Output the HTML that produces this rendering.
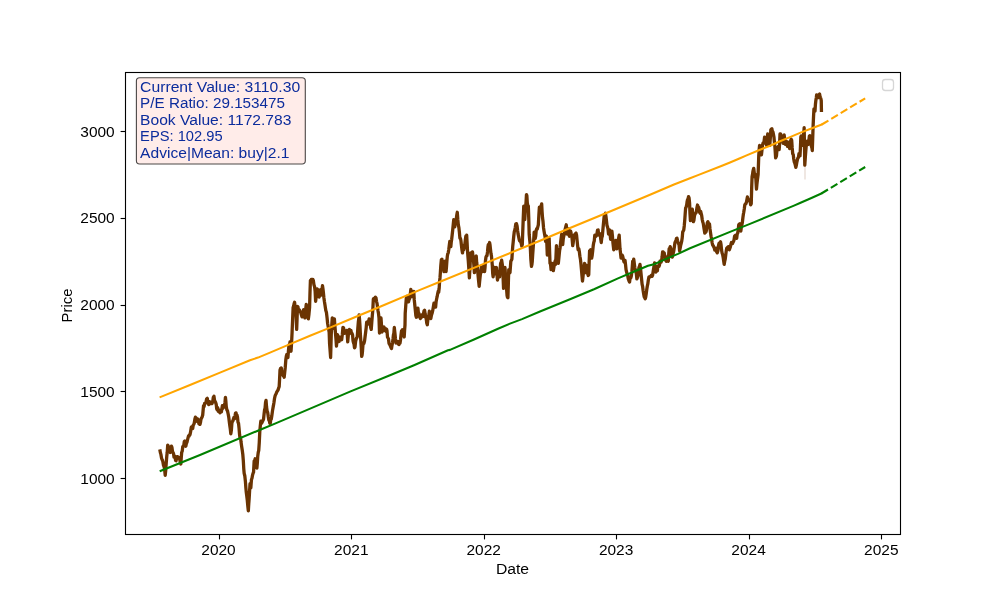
<!DOCTYPE html>
<html><head><meta charset="utf-8"><title>chart</title>
<style>
html,body{margin:0;padding:0;background:#fff;}
body{width:1000px;height:600px;overflow:hidden;position:relative;font-family:"Liberation Sans",sans-serif;}
svg{position:absolute;left:0;top:0;will-change:transform;}
text{font-family:"Liberation Sans",sans-serif;}
</style></head><body>
<svg width="1000" height="600" viewBox="0 0 1000 600">
<rect x="0" y="0" width="1000" height="600" fill="#ffffff"/>
<line x1="805" y1="160" x2="805" y2="179.5" stroke="#efe7e2" stroke-width="2"/>
<path d="M159.79,449.38 L160.35,452.44 L160.90,454.37 L161.46,457.71 L161.95,459.35 L162.43,460.14 L162.92,461.88 L163.47,465.33 L164.03,466.51 L164.58,469.17 L165.21,475.42 L165.73,470.39 L166.25,462.92 L166.74,456.55 L167.22,452.25 L167.71,445.21 L168.20,445.98 L168.68,447.72 L169.17,448.33 L169.69,450.21 L170.21,452.50 L170.84,451.21 L171.46,446.25 L171.95,447.39 L172.43,450.97 L172.92,452.50 L173.47,453.34 L174.03,457.14 L174.58,456.67 L175.07,456.14 L175.55,460.42 L176.04,460.83 L176.53,458.93 L177.01,458.39 L177.50,456.67 L178.06,456.97 L178.61,457.94 L179.17,457.71 L179.72,459.09 L180.28,462.22 L180.83,463.96 L181.25,457.80 L181.67,452.50 L182.22,451.14 L182.78,446.44 L183.33,446.25 L183.82,445.13 L184.30,441.46 L184.79,441.04 L185.31,444.33 L185.83,446.25 L186.39,443.35 L186.94,442.46 L187.50,440.00 L188.02,437.80 L188.54,435.83 L189.03,436.18 L189.51,434.86 L190.00,434.79 L190.62,431.64 L191.25,427.50 L191.74,426.79 L192.22,428.77 L192.71,428.54 L193.23,425.12 L193.75,424.38 L194.31,422.84 L194.86,419.24 L195.42,417.08 L195.91,418.94 L196.39,418.22 L196.88,421.25 L197.36,420.96 L197.85,419.12 L198.33,420.21 L198.89,423.82 L199.44,422.64 L200.00,424.38 L200.49,422.41 L200.97,419.31 L201.46,418.12 L202.09,417.11 L202.71,415.00 L203.12,410.24 L203.54,405.62 L204.10,406.54 L204.65,403.32 L205.21,403.54 L205.90,402.54 L206.60,399.03 L207.29,398.33 L207.78,402.00 L208.26,402.10 L208.75,404.58 L209.31,404.02 L209.86,401.76 L210.42,402.50 L210.97,403.52 L211.53,402.52 L212.08,403.54 L212.71,401.61 L213.33,397.29 L213.96,396.25 L214.48,399.92 L215.00,401.46 L215.62,402.44 L216.25,404.58 L216.67,408.60 L217.08,409.79 L217.64,407.56 L218.19,411.39 L218.75,409.79 L219.31,410.22 L219.86,412.77 L220.42,411.88 L220.91,410.20 L221.39,411.88 L221.88,408.75 L222.36,405.63 L222.85,408.45 L223.33,407.71 L223.96,405.34 L224.58,404.58 L225.00,402.17 L225.42,397.29 L225.83,400.90 L226.25,406.67 L226.88,409.96 L227.50,410.83 L228.12,413.78 L228.75,417.08 L229.27,421.52 L229.79,425.42 L230.31,429.11 L230.83,433.75 L231.36,430.29 L231.88,423.33 L232.36,421.26 L232.85,421.13 L233.33,419.17 L233.89,417.52 L234.44,418.81 L235.00,416.04 L235.52,413.07 L236.04,412.92 L236.53,415.36 L237.01,415.11 L237.50,417.08 L238.02,422.38 L238.54,423.33 L239.06,428.36 L239.58,434.79 L240.07,438.15 L240.55,437.66 L241.04,442.08 L241.66,446.45 L242.29,450.42 L242.81,454.50 L243.33,460.83 L243.75,468.52 L244.17,473.33 L244.79,475.73 L245.42,481.67 L245.83,487.48 L246.25,492.08 L246.77,496.08 L247.29,500.42 L247.81,505.98 L248.33,510.83 L248.75,503.87 L249.17,498.33 L249.58,491.17 L250.00,483.75 L250.42,484.57 L250.83,487.92 L251.46,479.58 L251.98,478.23 L252.50,475.42 L253.02,473.40 L253.54,472.29 L254.17,460.83 L254.69,460.94 L255.21,458.75 L255.73,460.81 L256.25,462.92 L256.88,468.12 L257.29,463.36 L257.71,456.67 L258.23,452.50 L258.75,450.42 L259.27,442.66 L259.79,431.67 L260.31,425.97 L260.83,421.25 L261.45,423.29 L262.08,422.29 L262.57,421.10 L263.05,420.37 L263.54,419.17 L264.06,414.15 L264.58,409.79 L265.07,408.21 L265.55,402.41 L266.04,400.42 L266.56,407.01 L267.08,410.83 L267.70,412.56 L268.33,417.08 L268.82,420.03 L269.30,420.55 L269.79,423.33 L270.28,423.18 L270.76,419.61 L271.25,419.17 L271.88,415.38 L272.50,410.83 L272.99,407.90 L273.47,405.44 L273.96,402.50 L274.48,398.74 L275.00,396.25 L275.42,395.00 L276.11,393.80 L276.81,391.91 L277.50,390.83 L278.06,390.07 L278.61,388.06 L279.17,386.67 L279.59,379.18 L280.00,370.00 L280.62,368.34 L281.25,367.92 L281.74,372.22 L282.22,371.73 L282.71,374.17 L283.20,375.68 L283.68,375.84 L284.17,377.29 L284.69,372.62 L285.21,367.92 L285.83,359.58 L286.36,355.96 L286.88,354.38 L287.40,356.31 L287.92,357.50 L288.44,350.83 L288.96,345.00 L289.48,345.46 L290.00,341.88 L290.52,343.74 L291.04,351.25 L291.56,343.11 L292.08,332.50 L292.60,319.73 L293.12,307.50 L293.61,306.20 L294.09,303.76 L294.58,302.29 L295.20,307.45 L295.83,311.67 L296.25,319.80 L296.67,329.38 L297.09,318.23 L297.50,306.46 L297.99,306.93 L298.47,311.21 L298.96,309.58 L299.45,309.89 L299.93,311.58 L300.42,311.67 L300.97,313.30 L301.53,315.39 L302.08,316.88 L302.57,314.38 L303.05,315.01 L303.54,309.58 L304.03,311.82 L304.51,316.25 L305.00,317.92 L305.62,309.86 L306.25,304.38 L306.77,307.57 L307.29,310.62 L307.81,313.74 L308.33,318.96 L308.95,314.17 L309.58,307.50 L310.00,292.32 L310.42,280.42 L310.91,281.94 L311.39,279.34 L311.88,279.38 L312.36,280.10 L312.85,279.39 L313.33,280.42 L313.95,284.75 L314.58,286.67 L315.10,291.01 L315.62,301.25 L316.14,297.24 L316.67,290.83 L317.15,288.89 L317.64,290.89 L318.12,289.79 L318.64,291.79 L319.17,297.08 L319.69,293.63 L320.21,289.79 L320.73,291.08 L321.25,295.00 L321.88,290.47 L322.50,285.62 L322.91,288.54 L323.33,291.88 L323.86,297.44 L324.38,301.25 L324.86,304.22 L325.35,307.59 L325.83,310.62 L326.45,312.58 L327.08,317.92 L327.60,323.24 L328.12,326.25 L328.64,329.05 L329.17,332.50 L329.59,343.85 L330.00,349.17 L330.62,357.50 L331.25,334.58 L331.77,324.99 L332.29,317.92 L332.81,324.13 L333.33,328.33 L333.86,323.35 L334.38,318.96 L334.90,325.88 L335.42,332.50 L335.94,338.49 L336.46,346.04 L336.98,340.55 L337.50,334.58 L338.02,337.00 L338.54,340.83 L339.03,341.47 L339.51,337.09 L340.00,337.71 L340.56,339.08 L341.11,338.04 L341.67,339.79 L342.30,334.67 L342.92,327.29 L343.55,327.76 L344.17,331.46 L344.72,333.20 L345.28,331.33 L345.83,332.50 L346.36,333.08 L346.88,330.42 L347.29,335.12 L347.71,341.88 L348.23,336.15 L348.75,330.42 L349.31,329.51 L349.86,331.96 L350.42,331.46 L350.97,330.40 L351.53,333.83 L352.08,333.54 L352.57,334.95 L353.05,340.88 L353.54,342.92 L354.03,344.11 L354.51,347.86 L355.00,347.08 L355.62,341.37 L356.25,338.75 L356.77,337.82 L357.29,336.67 L357.81,328.71 L358.33,322.08 L358.75,318.87 L359.17,314.79 L359.59,320.07 L360.00,326.25 L360.41,335.19 L360.83,340.83 L361.25,347.52 L361.67,356.46 L362.09,355.10 L362.50,351.25 L362.91,345.45 L363.33,342.92 L363.95,343.47 L364.58,340.83 L365.10,336.47 L365.62,332.50 L366.14,328.11 L366.67,322.08 L367.30,322.00 L367.92,324.17 L368.55,321.69 L369.17,318.96 L369.69,320.90 L370.21,323.12 L370.73,327.82 L371.25,329.38 L371.77,322.32 L372.29,315.83 L372.81,310.03 L373.33,299.17 L373.82,298.39 L374.30,300.51 L374.79,298.12 L375.39,297.16 L376.00,298.00 L376.50,301.35 L377.00,303.33 L377.50,307.00 L378.00,310.68 L378.50,313.42 L379.00,318.00 L379.50,333.00 L380.00,328.09 L380.50,321.54 L381.00,318.00 L381.50,325.07 L382.00,332.00 L382.50,329.52 L383.00,330.97 L383.50,328.00 L384.00,326.90 L384.50,330.07 L385.00,330.00 L385.50,328.70 L386.00,331.40 L386.50,329.00 L387.00,330.81 L387.50,337.16 L388.00,338.00 L388.50,338.82 L389.00,343.36 L389.50,344.00 L390.17,345.49 L390.83,347.21 L391.50,348.50 L392.00,345.30 L392.50,342.82 L393.00,339.00 L393.43,334.91 L393.87,333.30 L394.30,327.50 L394.87,332.62 L395.43,338.42 L396.00,343.00 L396.50,341.57 L397.00,342.55 L397.50,342.00 L398.00,341.45 L398.50,344.28 L399.00,344.50 L399.50,341.82 L400.00,343.31 L400.50,340.00 L401.00,334.84 L401.50,331.00 L402.00,331.94 L402.50,329.79 L403.00,330.50 L403.60,333.76 L404.20,337.00 L404.60,330.11 L405.00,325.00 L405.21,313.33 L405.73,306.22 L406.25,298.75 L406.88,296.41 L407.50,296.67 L408.02,301.00 L408.54,301.88 L409.06,299.61 L409.58,298.75 L410.20,295.08 L410.83,289.38 L411.45,292.40 L412.08,296.67 L412.64,295.93 L413.19,292.35 L413.75,291.46 L414.27,299.91 L414.79,305.00 L415.31,310.08 L415.83,315.42 L416.36,317.24 L416.88,316.46 L417.40,311.89 L417.92,308.12 L418.44,313.32 L418.96,313.33 L419.45,314.71 L419.93,317.51 L420.42,318.54 L420.97,315.36 L421.53,317.26 L422.08,315.42 L422.57,314.42 L423.05,316.48 L423.54,313.33 L424.06,310.81 L424.58,310.21 L425.20,314.18 L425.83,317.50 L426.32,319.43 L426.80,323.22 L427.29,324.79 L427.81,320.32 L428.33,317.50 L428.86,315.11 L429.38,311.25 L429.86,313.32 L430.35,317.58 L430.83,318.54 L431.45,315.21 L432.08,313.33 L432.70,310.70 L433.33,307.08 L433.95,303.23 L434.58,303.96 L435.10,306.51 L435.62,307.08 L436.14,301.47 L436.67,298.75 L437.19,296.47 L437.71,293.54 L438.20,291.29 L438.68,292.20 L439.17,288.33 L439.59,281.19 L440.00,277.92 L440.41,272.19 L440.83,265.42 L441.36,259.63 L441.88,259.17 L442.40,261.75 L442.92,262.29 L443.44,266.22 L443.96,271.67 L444.48,268.54 L445.00,261.25 L445.52,266.33 L446.04,271.67 L446.46,267.08 L446.88,261.25 L447.29,256.61 L447.71,253.96 L448.23,252.87 L448.75,249.79 L449.27,245.53 L449.79,241.46 L450.31,244.39 L450.83,246.67 L451.25,242.12 L451.67,239.38 L452.19,234.73 L452.71,230.00 L453.23,224.58 L453.75,219.58 L454.27,224.35 L454.79,226.88 L455.31,223.36 L455.83,220.62 L456.32,218.82 L456.80,214.95 L457.29,212.29 L457.81,219.48 L458.33,224.79 L458.86,227.51 L459.38,232.08 L459.90,238.14 L460.42,238.33 L460.94,240.72 L461.46,245.62 L461.98,249.97 L462.50,252.92 L463.12,248.50 L463.75,249.79 L464.27,247.87 L464.79,244.58 L465.31,239.89 L465.83,236.25 L466.25,237.58 L466.67,235.21 L467.09,242.55 L467.50,250.83 L467.91,256.11 L468.33,261.25 L468.86,269.01 L469.38,277.92 L470.00,267.50 L470.62,252.92 L471.14,258.18 L471.67,259.17 L472.09,254.39 L472.50,251.88 L473.02,256.92 L473.54,261.25 L473.96,266.21 L474.38,272.71 L474.90,268.44 L475.42,261.25 L475.84,256.65 L476.25,256.04 L476.66,262.27 L477.08,265.42 L477.60,269.89 L478.12,275.83 L478.64,281.36 L479.17,286.25 L479.69,280.84 L480.21,275.83 L480.73,272.10 L481.25,267.50 L481.77,268.51 L482.29,271.67 L482.81,270.88 L483.33,265.42 L483.95,267.40 L484.58,271.67 L485.00,267.77 L485.42,261.25 L485.94,257.17 L486.46,256.04 L486.98,255.83 L487.50,251.88 L487.91,247.14 L488.33,244.58 L488.95,245.54 L489.58,242.50 L490.00,244.73 L490.42,248.75 L490.94,253.35 L491.46,256.04 L491.88,260.44 L492.29,265.42 L492.71,273.53 L493.12,276.88 L493.75,271.37 L494.38,267.50 L494.90,270.69 L495.42,273.75 L495.94,270.05 L496.46,267.50 L496.98,274.55 L497.50,280.00 L498.02,275.70 L498.54,271.67 L499.06,274.78 L499.58,276.88 L500.10,269.69 L500.62,263.33 L501.14,262.47 L501.67,260.21 L502.19,263.63 L502.71,267.50 L503.12,278.27 L503.54,288.33 L504.06,283.30 L504.58,280.00 L505.00,267.50 L505.52,275.89 L506.04,284.17 L506.56,288.99 L507.08,295.62 L507.50,297.35 L507.92,297.71 L508.34,283.64 L508.75,269.58 L509.38,271.27 L510.00,272.71 L510.41,266.81 L510.83,261.25 L511.36,260.21 L511.88,259.17 L512.30,252.73 L512.71,246.67 L513.23,241.61 L513.75,236.25 L514.27,231.74 L514.79,230.00 L515.31,227.34 L515.83,223.75 L516.46,223.63 L517.08,225.83 L517.60,230.48 L518.12,234.17 L518.64,236.57 L519.17,239.38 L519.69,240.91 L520.21,241.46 L520.73,241.44 L521.25,243.54 L521.77,246.15 L522.29,244.58 L522.70,233.06 L523.12,221.67 L523.75,206.04 L524.27,213.83 L524.79,219.58 L525.20,212.52 L525.62,207.08 L526.04,202.02 L526.46,194.58 L526.88,195.86 L527.29,202.92 L527.81,205.62 L528.33,206.04 L528.75,218.37 L529.17,234.17 L529.59,238.75 L530.00,242.50 L530.41,249.33 L530.83,259.17 L531.46,266.46 L531.88,264.69 L532.29,261.25 L532.70,254.43 L533.12,248.75 L533.64,240.96 L534.17,232.08 L534.69,235.01 L535.21,238.33 L535.73,235.80 L536.25,230.00 L536.77,228.70 L537.29,228.96 L537.81,226.90 L538.33,224.79 L538.86,215.28 L539.38,207.08 L539.90,210.99 L540.42,211.25 L541.04,206.54 L541.67,203.96 L542.09,211.86 L542.50,217.50 L543.02,221.52 L543.54,227.92 L544.06,231.21 L544.58,234.17 L545.10,237.01 L545.62,241.46 L546.04,239.18 L546.46,236.25 L546.88,244.45 L547.29,255.00 L547.81,253.57 L548.33,250.83 L548.75,243.58 L549.17,238.33 L549.59,251.06 L550.00,263.33 L550.52,263.65 L551.04,269.58 L551.56,267.82 L552.08,263.33 L552.71,266.74 L553.33,270.62 L553.96,267.07 L554.58,263.33 L555.10,261.00 L555.62,264.38 L556.04,255.38 L556.46,245.62 L556.88,249.35 L557.29,255.00 L557.81,260.24 L558.33,263.33 L558.96,257.07 L559.58,250.83 L560.10,247.95 L560.62,242.50 L561.14,238.13 L561.67,234.17 L562.19,239.77 L562.71,244.58 L563.23,239.17 L563.75,236.25 L564.38,233.99 L565.00,230.00 L565.62,227.37 L566.25,224.79 L566.77,230.42 L567.29,234.17 L567.81,230.97 L568.33,228.96 L568.86,232.83 L569.38,236.25 L570.00,233.58 L570.62,231.04 L571.14,233.39 L571.67,235.21 L572.19,239.66 L572.71,245.62 L573.23,242.61 L573.75,237.29 L574.38,235.04 L575.00,234.17 L575.52,233.65 L576.04,233.12 L576.56,235.16 L577.08,240.42 L577.60,245.58 L578.12,249.79 L578.75,248.63 L579.38,251.88 L579.90,256.28 L580.42,259.17 L580.94,263.75 L581.46,269.58 L581.98,275.93 L582.50,281.04 L583.02,276.30 L583.54,271.67 L584.06,267.76 L584.58,263.33 L585.10,266.46 L585.62,272.71 L586.14,271.08 L586.67,265.42 L587.19,269.02 L587.71,273.75 L588.23,275.47 L588.75,274.79 L589.16,261.84 L589.58,250.83 L590.10,250.51 L590.62,249.79 L591.14,251.95 L591.67,258.12 L592.19,255.33 L592.71,250.83 L593.23,245.64 L593.75,242.50 L594.27,240.94 L594.79,235.21 L595.31,235.67 L595.83,236.25 L596.36,235.90 L596.88,234.17 L597.50,230.15 L598.12,230.00 L598.64,234.61 L599.17,235.21 L599.69,233.52 L600.21,234.17 L600.73,239.03 L601.25,242.50 L601.77,237.83 L602.29,236.25 L602.81,230.55 L603.33,224.79 L603.86,219.31 L604.38,214.38 L604.90,214.55 L605.42,213.33 L605.94,216.20 L606.46,220.62 L606.98,225.40 L607.50,226.88 L608.02,229.24 L608.54,234.17 L609.06,233.53 L609.58,230.00 L610.10,234.13 L610.62,239.38 L611.25,236.38 L611.88,231.04 L612.40,235.59 L612.92,242.50 L613.34,246.23 L613.75,249.79 L614.27,247.18 L614.79,244.58 L615.31,243.04 L615.83,240.42 L616.36,242.84 L616.88,248.75 L617.40,246.99 L617.92,242.50 L618.54,238.83 L619.17,235.21 L619.59,242.20 L620.00,248.75 L620.52,253.09 L621.04,258.12 L621.56,256.63 L622.08,255.00 L622.71,256.25 L623.33,259.17 L623.86,261.50 L624.38,262.29 L625.00,260.21 L625.52,264.51 L626.04,269.58 L626.56,271.76 L627.08,273.75 L627.71,275.62 L628.33,278.96 L628.96,280.71 L629.58,282.08 L630.21,277.01 L630.83,277.92 L631.36,275.87 L631.88,271.67 L632.30,266.42 L632.71,261.25 L633.23,261.86 L633.75,259.17 L634.27,263.12 L634.79,267.50 L635.31,269.75 L635.83,271.67 L636.36,273.80 L636.88,278.96 L637.40,277.67 L637.92,275.83 L638.44,271.32 L638.96,267.50 L639.48,266.45 L640.00,264.38 L640.52,268.39 L641.04,273.75 L641.56,279.00 L642.08,284.17 L642.60,286.36 L643.12,290.42 L643.64,293.70 L644.17,296.67 L644.69,297.64 L645.21,298.75 L645.73,296.95 L646.25,293.54 L646.77,289.57 L647.29,286.25 L647.81,283.92 L648.33,280.00 L648.96,276.95 L649.58,276.88 L650.21,276.77 L650.83,275.83 L651.46,275.23 L652.08,276.25 L652.60,275.18 L653.12,271.67 L653.61,268.63 L654.09,266.38 L654.58,262.92 L655.00,267.18 L655.42,271.67 L655.91,271.97 L656.39,270.66 L656.88,270.83 L657.40,270.89 L657.92,265.83 L658.44,265.79 L658.96,266.46 L659.48,265.07 L660.00,261.25 L660.52,261.64 L661.04,262.29 L661.56,260.91 L662.08,257.08 L662.60,251.87 L663.12,251.88 L663.64,253.23 L664.17,252.92 L664.69,255.25 L665.21,258.12 L665.73,260.35 L666.25,261.25 L666.77,257.11 L667.29,258.12 L667.81,260.04 L668.33,261.25 L668.75,253.59 L669.17,248.75 L669.69,248.55 L670.21,246.67 L670.73,248.23 L671.25,251.88 L671.77,255.04 L672.29,257.08 L672.81,254.83 L673.33,252.92 L673.86,250.36 L674.38,246.67 L674.90,242.88 L675.42,241.46 L675.94,241.19 L676.46,238.33 L676.98,238.26 L677.50,240.42 L678.02,242.25 L678.54,243.54 L679.06,244.85 L679.58,250.83 L680.10,248.47 L680.62,245.62 L681.14,243.52 L681.67,241.46 L682.19,238.05 L682.71,232.08 L683.23,231.01 L683.75,230.00 L684.27,225.68 L684.79,219.58 L685.20,213.57 L685.62,208.12 L686.14,207.20 L686.67,205.00 L687.09,201.61 L687.50,199.79 L688.02,199.08 L688.54,196.67 L689.06,197.87 L689.58,202.92 L690.00,213.60 L690.42,220.62 L690.84,217.48 L691.25,214.38 L691.77,212.07 L692.29,209.17 L692.81,214.95 L693.33,221.67 L693.86,220.62 L694.38,216.46 L694.90,214.12 L695.42,213.33 L695.94,213.03 L696.46,211.25 L696.98,207.60 L697.50,205.00 L698.02,206.80 L698.54,207.08 L699.06,208.89 L699.58,212.29 L700.10,213.24 L700.62,211.25 L701.14,213.32 L701.67,215.42 L702.19,219.29 L702.71,221.67 L703.23,223.38 L703.75,226.88 L704.27,230.05 L704.79,233.12 L705.31,232.26 L705.83,232.08 L706.36,230.63 L706.88,225.83 L707.40,222.51 L707.92,221.67 L708.44,223.28 L708.96,223.75 L709.48,223.84 L710.00,228.96 L710.52,232.61 L711.04,236.25 L711.56,238.51 L712.08,242.50 L712.60,244.77 L713.12,245.62 L713.64,246.62 L714.17,247.71 L714.79,250.15 L715.42,248.75 L716.04,248.35 L716.67,251.88 L717.29,252.86 L717.92,250.83 L718.44,245.85 L718.96,243.54 L719.48,244.68 L720.00,242.50 L720.52,241.76 L721.04,244.58 L721.56,250.04 L722.08,252.92 L722.60,254.49 L723.12,257.08 L723.64,260.80 L724.17,264.38 L724.69,261.43 L725.21,259.17 L725.73,255.13 L726.25,250.83 L726.77,248.07 L727.29,247.71 L727.81,247.22 L728.33,246.67 L728.86,246.65 L729.38,249.79 L729.90,248.31 L730.42,246.67 L730.94,244.25 L731.46,242.50 L731.98,243.53 L732.50,243.54 L733.02,242.25 L733.54,241.46 L734.06,239.85 L734.58,236.25 L735.10,235.55 L735.62,235.21 L736.14,237.30 L736.67,238.33 L737.19,234.00 L737.71,233.12 L738.23,229.80 L738.75,224.79 L739.27,224.14 L739.79,223.75 L740.31,227.91 L740.83,231.04 L741.36,227.14 L741.88,224.79 L742.40,222.18 L742.92,217.50 L743.34,214.51 L743.75,212.29 L744.27,208.97 L744.79,205.00 L745.31,203.91 L745.83,203.96 L746.36,202.50 L746.88,199.79 L747.40,196.96 L747.92,198.75 L748.44,200.57 L748.96,200.83 L749.48,200.30 L750.00,199.79 L750.62,204.84 L751.25,203.75 L751.66,188.16 L752.08,176.67 L752.50,174.64 L752.92,171.46 L753.34,169.71 L753.75,168.33 L754.27,172.67 L754.79,176.67 L755.20,175.18 L755.62,174.58 L756.04,182.14 L756.46,189.17 L756.88,184.60 L757.29,180.83 L757.70,177.76 L758.12,174.58 L758.75,155.83 L759.16,149.78 L759.58,145.42 L760.10,148.02 L760.62,146.46 L761.04,149.65 L761.46,154.79 L761.98,150.11 L762.50,145.42 L763.02,143.24 L763.54,143.33 L764.06,141.35 L764.58,137.08 L765.10,137.95 L765.62,140.21 L766.14,143.53 L766.67,145.42 L767.19,138.99 L767.71,133.96 L768.23,137.91 L768.75,140.21 L769.27,142.48 L769.79,145.42 L770.31,138.16 L770.83,129.79 L771.36,129.15 L771.88,128.75 L772.40,131.87 L772.92,131.88 L773.44,134.45 L773.96,137.08 L774.38,141.75 L774.79,145.42 L775.20,151.09 L775.62,157.92 L776.04,156.98 L776.46,155.83 L776.88,150.84 L777.29,147.50 L777.81,147.95 L778.33,146.46 L778.75,147.32 L779.17,149.58 L779.59,143.82 L780.00,133.96 L780.52,133.87 L781.04,135.00 L781.56,135.68 L782.08,136.04 L782.60,139.52 L783.12,143.33 L783.64,140.86 L784.17,135.00 L784.69,139.34 L785.21,144.38 L785.84,143.80 L786.46,141.25 L786.98,143.10 L787.50,146.46 L788.02,144.39 L788.54,142.29 L789.06,145.40 L789.58,148.54 L790.10,146.85 L790.62,141.25 L791.14,139.15 L791.67,140.21 L792.19,147.97 L792.71,153.75 L793.23,154.43 L793.75,158.96 L794.27,161.86 L794.79,163.12 L795.31,165.06 L795.83,167.29 L796.36,165.18 L796.88,162.08 L797.40,159.60 L797.92,157.92 L798.44,157.48 L798.96,153.75 L799.48,154.56 L800.00,155.83 L800.41,148.10 L800.83,137.08 L801.25,135.93 L801.67,136.04 L802.09,141.86 L802.50,145.42 L802.91,139.75 L803.33,137.08 L803.75,133.74 L804.17,127.71 L804.79,165.21 L805.42,155.83 L805.84,150.26 L806.25,145.42 L806.77,145.20 L807.29,141.25 L807.81,142.34 L808.33,144.38 L808.86,140.48 L809.38,136.04 L809.90,135.67 L810.42,140.21 L810.94,143.91 L811.46,146.46 L811.88,147.80 L812.29,150.62 L812.70,138.70 L813.12,125.62 L813.54,116.69 L813.96,108.96 L814.48,111.12 L815.00,111.04 L815.41,104.54 L815.83,100.62 L816.25,98.03 L816.67,94.79 L817.19,95.56 L817.71,96.88 L818.23,97.59 L818.75,95.42 L819.16,94.47 L819.58,93.96 L820.00,96.33 L820.42,97.50 L820.84,98.55 L821.25,100.62 L821.46,112.08" fill="none" stroke="#6b3402" stroke-width="3.3" stroke-linejoin="round" stroke-linecap="butt"/>
<path d="M159.6,397.4 L190.0,385.0 L220.0,372.6 L250.0,360.2 L258.0,357.6 L270.0,352.6 L290.0,344.1 L310.0,335.8 L330.0,327.6 L350.0,319.2 L380.0,306.8 L420.0,289.9 L440.0,281.8 L480.0,265.4 L540.0,240.7 L570.0,228.0 L610.0,211.5 L650.0,194.8 L674.0,184.5 L690.0,178.3 L698.0,175.1 L722.0,165.8 L730.0,162.5 L740.0,158.2 L746.0,155.6 L760.0,149.8 L770.0,145.7 L780.0,141.2 L790.0,137.1 L800.0,132.9 L812.0,128.3 L821.8,124.5 L822.4,124.1" fill="none" stroke="#ffa500" stroke-width="2.08" stroke-linejoin="round"/>
<path d="M821.8,124.5 L865.2,98.4" fill="none" stroke="#ffa500" stroke-width="2.08" stroke-dasharray="7.7 3.33"/>
<path d="M159.7,471.3 L200.0,455.0 L259.0,430.2 L275.0,423.6 L350.0,391.6 L390.0,375.3 L414.0,365.2 L448.0,350.2 L450.0,349.9 L474.0,339.5 L498.0,328.8 L510.0,323.6 L522.0,319.1 L540.0,311.5 L570.0,299.3 L594.0,289.2 L618.0,278.4 L636.0,270.8 L648.0,265.8 L654.0,264.2 L660.0,261.6 L666.0,258.9 L678.0,253.9 L690.0,248.3 L730.0,231.9 L750.0,223.9 L794.0,205.6 L800.0,203.0 L812.0,197.7 L821.4,193.5 L822.0,193.1" fill="none" stroke="#008000" stroke-width="2.08" stroke-linejoin="round"/>
<path d="M821.4,193.5 L865.2,167.0" fill="none" stroke="#008000" stroke-width="2.08" stroke-dasharray="7.7 3.33"/>
<rect x="125.5" y="72.5" width="775" height="462" fill="none" stroke="#000" stroke-width="1.11"/>
<line x1="219.5" y1="535" x2="219.5" y2="539.4" stroke="#000" stroke-width="1.11"/>
<text x="201.32" y="554.6" font-size="14.0" textLength="34.4" lengthAdjust="spacingAndGlyphs" fill="#000">2020</text>
<line x1="351.5" y1="535" x2="351.5" y2="539.4" stroke="#000" stroke-width="1.11"/>
<text x="334.12" y="554.6" font-size="14.0" textLength="34.4" lengthAdjust="spacingAndGlyphs" fill="#000">2021</text>
<line x1="484.5" y1="535" x2="484.5" y2="539.4" stroke="#000" stroke-width="1.11"/>
<text x="466.52" y="554.6" font-size="14.0" textLength="34.4" lengthAdjust="spacingAndGlyphs" fill="#000">2022</text>
<line x1="616.5" y1="535" x2="616.5" y2="539.4" stroke="#000" stroke-width="1.11"/>
<text x="598.93" y="554.6" font-size="14.0" textLength="34.4" lengthAdjust="spacingAndGlyphs" fill="#000">2023</text>
<line x1="749.5" y1="535" x2="749.5" y2="539.4" stroke="#000" stroke-width="1.11"/>
<text x="731.38" y="554.6" font-size="14.0" textLength="34.4" lengthAdjust="spacingAndGlyphs" fill="#000">2024</text>
<line x1="881.5" y1="535" x2="881.5" y2="539.4" stroke="#000" stroke-width="1.11"/>
<text x="864.12" y="554.6" font-size="14.0" textLength="34.4" lengthAdjust="spacingAndGlyphs" fill="#000">2025</text>
<line x1="120.6" y1="478.5" x2="125" y2="478.5" stroke="#000" stroke-width="1.11"/>
<text x="80.33" y="483.50" font-size="14.0" textLength="34.4" lengthAdjust="spacingAndGlyphs" fill="#000">1000</text>
<line x1="120.6" y1="391.5" x2="125" y2="391.5" stroke="#000" stroke-width="1.11"/>
<text x="80.33" y="396.80" font-size="14.0" textLength="34.4" lengthAdjust="spacingAndGlyphs" fill="#000">1500</text>
<line x1="120.6" y1="305.5" x2="125" y2="305.5" stroke="#000" stroke-width="1.11"/>
<text x="80.33" y="310.05" font-size="14.0" textLength="34.4" lengthAdjust="spacingAndGlyphs" fill="#000">2000</text>
<line x1="120.6" y1="218.5" x2="125" y2="218.5" stroke="#000" stroke-width="1.11"/>
<text x="80.33" y="223.30" font-size="14.0" textLength="34.4" lengthAdjust="spacingAndGlyphs" fill="#000">2500</text>
<line x1="120.6" y1="131.5" x2="125" y2="131.5" stroke="#000" stroke-width="1.11"/>
<text x="80.33" y="136.60" font-size="14.0" textLength="34.4" lengthAdjust="spacingAndGlyphs" fill="#000">3000</text>
<text x="495.90" y="573.6" font-size="14.0" textLength="33.2" lengthAdjust="spacingAndGlyphs" fill="#000">Date</text>
<text transform="translate(71.6,322.44) rotate(-90)" font-size="14.0" textLength="33.88" lengthAdjust="spacingAndGlyphs" fill="#000">Price</text>
<rect x="136.4" y="77.7" width="168.9" height="86.3" rx="3.2" ry="3.2" fill="#ffece9" stroke="#4c4847" stroke-width="1.11"/>
<text x="140.1" y="91.90" font-size="14.0" textLength="160.05" lengthAdjust="spacingAndGlyphs" fill="#0c2c9c">Current Value: 3110.30</text>
<text x="140.1" y="108.35" font-size="14.0" textLength="144.91" lengthAdjust="spacingAndGlyphs" fill="#0c2c9c">P/E Ratio: 29.153475</text>
<text x="140.1" y="124.80" font-size="14.0" textLength="151.29" lengthAdjust="spacingAndGlyphs" fill="#0c2c9c">Book Value: 1172.783</text>
<text x="140.1" y="141.25" font-size="14.0" textLength="82.46" lengthAdjust="spacingAndGlyphs" fill="#0c2c9c">EPS: 102.95</text>
<text x="140.1" y="157.70" font-size="14.0" textLength="149.35" lengthAdjust="spacingAndGlyphs" fill="#0c2c9c">Advice|Mean: buy|2.1</text>
<rect x="882.5" y="79.5" width="11" height="11" rx="2.8" ry="2.8" fill="#fff" stroke="#d6d6d6" stroke-width="1.31"/>
</svg></body></html>
